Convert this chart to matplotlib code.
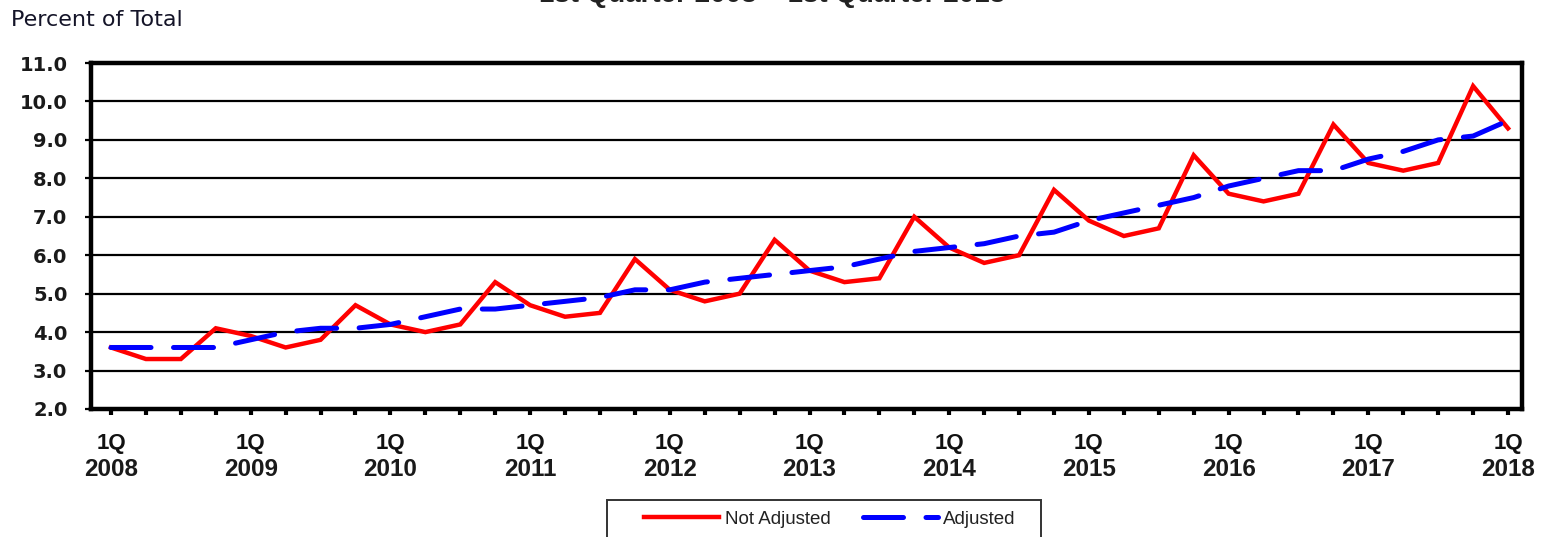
import matplotlib
matplotlib.use("Agg")
import matplotlib.pyplot as plt
import matplotlib.transforms as mtransforms
from matplotlib.patches import Rectangle
import numpy as np

years = list(range(2008, 2019))
quarters = [f"{y}Q{q}" for y in range(2008, 2019) for q in range(1, 5)][:41]

not_adjusted = [3.6, 3.3, 3.3, 4.1,
                3.9, 3.6, 3.8, 4.7,
                4.2, 4.0, 4.2, 5.3,
                4.7, 4.4, 4.5, 5.9,
                5.1, 4.8, 5.0, 6.4,
                5.6, 5.3, 5.4, 7.0,
                6.2, 5.8, 6.0, 7.7,
                6.9, 6.5, 6.7, 8.6,
                7.6, 7.4, 7.6, 9.4,
                8.4, 8.2, 8.4, 10.4,
                9.3]
adjusted = [3.6, 3.6, 3.6, 3.6,
            3.8, 4.0, 4.1, 4.1,
            4.2, 4.4, 4.6, 4.6,
            4.7, 4.8, 4.9, 5.1,
            5.1, 5.3, 5.4, 5.5,
            5.6, 5.7, 5.9, 6.1,
            6.2, 6.3, 6.5, 6.6,
            6.9, 7.1, 7.3, 7.5,
            7.8, 8.0, 8.2, 8.2,
            8.5, 8.7, 9.0, 9.1,
            9.5]
yticks = [2.0, 3.0, 4.0, 5.0, 6.0, 7.0, 8.0, 9.0, 10.0, 11.0]
qlabels = ["1Q"] * len(years)
ylabels_years = [str(y) for y in years]

x = np.arange(len(quarters))

W, H = 1544, 537
fig = plt.figure(figsize=(W / 100, H / 100), dpi=100)
ax = fig.add_axes([91 / W, 1 - 409 / H, (1522 - 91) / W, (409 - 63) / H])

for v in yticks[1:-1]:
    ax.axhline(v, color="black", lw=1.6, zorder=1)

ax.plot(x, not_adjusted, color="#ff0000", lw=3.2, solid_joinstyle="miter",
        label="Not Adjusted", zorder=3)
ax.plot(x, adjusted, color="#0000ff", lw=3.6, dashes=(8, 4.5),
        dash_capstyle="round", label="Adjusted", zorder=4)

ax.set_xlim(-0.573, 40.40)
ax.set_ylim(2.0, 11.0)
ax.set_yticks(yticks)
ax.set_yticklabels([f"{v:.1f}" for v in yticks])
major_x = x[::4]
ax.set_xticks(major_x)
ax.set_xticklabels(qlabels)
ax.set_xticks(x, minor=True)

for s in ax.spines.values():
    s.set_linewidth(3.2)
    s.set_color("black")

ax.tick_params(axis="x", which="both", direction="out", length=4, width=3,
               pad=13, labelsize=16)
ax.tick_params(axis="y", direction="out", length=4, width=1.6, pad=13,
               labelsize=14)
for lab in ax.get_xticklabels():
    lab.set_fontfamily("Liberation Sans")
    lab.set_fontweight("bold")
    lab.set_color("#111111")
for lab in ax.get_yticklabels():
    lab.set_fontfamily("DejaVu Sans")
    lab.set_fontweight("bold")
    lab.set_color("#1a1a1a")

# year line under the "1Q" labels
trans = mtransforms.blended_transform_factory(ax.transData, fig.transFigure)
for xv, yl in zip(major_x, ylabels_years):
    ax.text(xv, 1 - 469 / H, yl, transform=trans, ha="center", va="center",
            fontsize=17.5, family="Liberation Sans", fontweight="bold",
            color="#1a1a1a", clip_on=False)

fig.text(11 / W, 1 - 20 / H, "Percent of Total", fontsize=16,
         family="DejaVu Sans", color="#141428", va="center", ha="left")

# title, mostly cut off at the top edge as in the reference
fig.text(0.50, 1 - 2.5 / H, "1st Quarter 2008 \u2013 1st Quarter 2018",
         fontsize=20, fontweight="bold", family="Liberation Sans",
         ha="center", va="baseline", color="#222222")

# legend box
fig.patches.append(Rectangle((607 / W, 1 - 545 / H), (1041 - 607) / W, 45 / H,
                             transform=fig.transFigure, facecolor="white",
                             edgecolor="#333333", lw=1.4, zorder=0))
leg = fig.legend(loc="center", bbox_to_anchor=(830 / W, 1 - 519 / H),
                 ncol=2, frameon=False, handlelength=4.0, columnspacing=1.7,
                 handletextpad=0.3,
                 prop={"family": "Liberation Sans", "size": 13.5})
for t in leg.get_texts():
    t.set_color("#222222")

fig.savefig("out.png", dpi=100)
